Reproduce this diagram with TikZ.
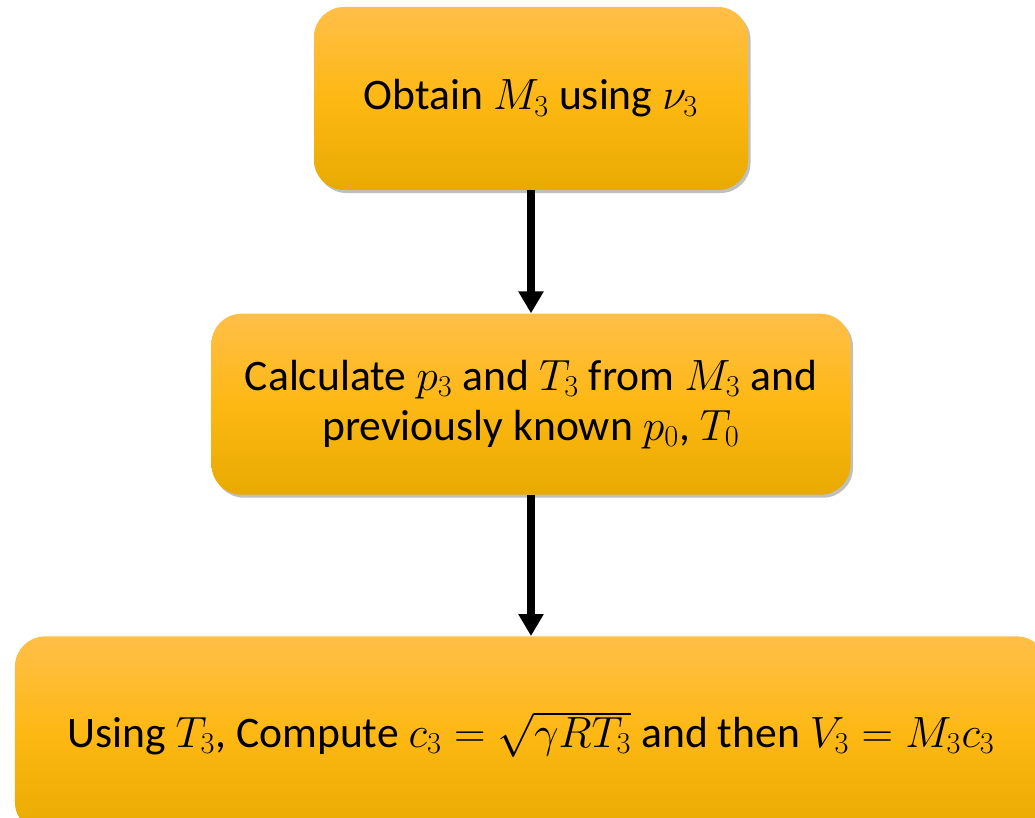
\documentclass[tikz,border=0pt]{standalone}
\usepackage{fontspec}
\setmainfont{Carlito}
\definecolor{boxtop}{RGB}{255, 191, 72}
\definecolor{boxmid}{RGB}{254, 184, 19}
\definecolor{boxbot}{RGB}{232, 170, 0}
\usetikzlibrary{shapes,arrows.meta,positioning,calc,shadows}

\tikzset{
    stepbox/.style={rectangle, rounded corners=0.6cm, top color=boxtop, bottom color=boxbot, middle color=boxmid,
        drop shadow={shadow xshift=0.05cm, shadow yshift=-0.06cm, opacity=0.25, fill=black},
        align=center, inner sep=0pt, font=\fontsize{24.8}{28.5}\selectfont},
    flow/.style={-{Triangle[width=0.48cm, length=0.44cm]}, line width=0.16cm, black}
}

\begin{document}
\begin{tikzpicture}
    \clip (0,0) rectangle (20.7,-16.34);
    \fill[white] (0,0) rectangle (20.7,-16.34);

    % Steps
    \node[stepbox, minimum width=8.68cm, minimum height=3.66cm] (obtain_mach) at (10.62,-1.97) {Obtain $M_3$ using $\nu_3$};
    \node[stepbox, minimum width=12.78cm, minimum height=3.62cm, below=2.46cm of obtain_mach] (calc_state)
        {Calculate $p_3$ and $T_3$ from $M_3$ and\\ previously known $p_0$, $T_0$};
    \node[stepbox, minimum width=20.64cm, minimum height=3.92cm, below=2.82cm of calc_state] (compute_vel)
        {Using $T_3$, Compute $c_3=\sqrt{\gamma R T_3}$ and then $V_3=M_3c_3$};

    % Arrows
    \draw[flow] (obtain_mach) -- (calc_state);
    \draw[flow] (calc_state) -- (compute_vel);
\end{tikzpicture}
\end{document}
